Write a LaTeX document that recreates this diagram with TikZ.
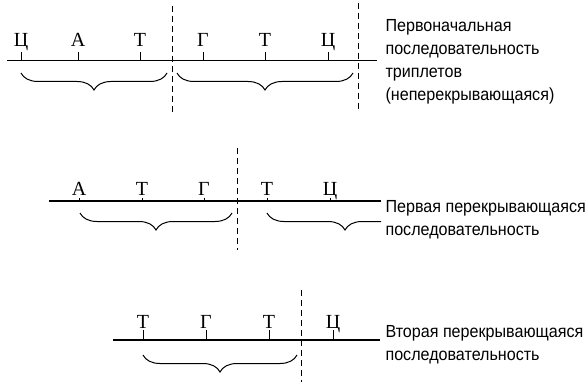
\documentclass[tikz,border=0pt]{standalone}
\usepackage{fontspec}
\setmainfont[FakeStretch=0.92]{Liberation Sans}
\newfontfamily\nucfont{Liberation Serif}
\usetikzlibrary{decorations.pathreplacing}

\begin{document}
\begin{tikzpicture}[x=1pt, y=-1pt, line width=1.1pt,
                    nuc/.style={font=\nucfont\fontsize{20}{20}\selectfont,
                                inner sep=0pt, anchor=base},
                    tickmark/.style={line width=0.8pt},
                    frame/.style={line width=0.8pt, dash pattern=on 6pt off 4pt},
                    triplet/.style={decorate, line width=1pt,
                                    decoration={brace, mirror, amplitude=17pt}},
                    seqtext/.style={font=\fontsize{17.5}{23}\selectfont, align=left,
                                    inner sep=0pt, anchor=north west}]

  \useasboundingbox (0,0) rectangle (588,382);

  % original, non-overlapping reading
  \coordinate (row1w) at (7,60.7);
  \coordinate (row1e) at (377,60.7);
  \draw (row1w) -- (row1e);

  \node[nuc] (n11) at (21,47)  {Ц};
  \node[nuc] (n12) at (78,47)  {А};
  \node[nuc] (n13) at (140,47) {Т};
  \node[nuc] (n14) at (203,47) {Г};
  \node[nuc] (n15) at (265,47) {Т};
  \node[nuc] (n16) at (328,47) {Ц};
  \foreach \n in {n11,n12,n13,n14,n15,n16}
    \draw[tickmark] ([yshift=-5pt]\n.base) -- (\n.base |- row1w);

  \coordinate (d1a) at (172,6);   \coordinate (d1b) at (172,112);
  \coordinate (d2a) at (358,3);   \coordinate (d2b) at (358,110);
  \draw[frame] (d1a) -- (d1b);
  \draw[frame] (d2a) -- (d2b);

  \coordinate (b11) at (21,73);   \coordinate (b12) at (167,73);
  \coordinate (b13) at (177,73);  \coordinate (b14) at (353,73);
  \draw[triplet] (b11) -- (b12);
  \draw[triplet] (b13) -- (b14);

  \node[seqtext] (lab1) at (385,18.5)
    {Первоначальная\\последовательность\\триплетов\\(неперекрывающаяся)};

  % first overlapping reading
  \coordinate (row2w) at (49,201);
  \coordinate (row2e) at (381,201);
  \draw (row2w) -- (row2e);

  \node[nuc] (n21) at (79,195.5)  {А};
  \node[nuc] (n22) at (142,195.5) {Т};
  \node[nuc] (n23) at (204,195.5) {Г};
  \node[nuc] (n24) at (267,195.5) {Т};
  \node[nuc] (n25) at (330,195.5) {Ц};
  \foreach \n in {n21,n22,n23,n24,n25}
    \draw[tickmark] ([yshift=-2pt]\n.base) -- (\n.base |- row2w);

  \coordinate (d3a) at (237,148); \coordinate (d3b) at (237,250);
  \draw[frame] (d3a) -- (d3b);

  \coordinate (b21) at (80,213);  \coordinate (b22) at (232,213);
  \coordinate (b23) at (267,213); \coordinate (b24) at (423,213);
  \draw[triplet] (b21) -- (b22);
  \begin{scope}
    \clip (250,200) rectangle (381,240);
    \draw[triplet] (b23) -- (b24);
  \end{scope}

  \node[seqtext] (lab2) at (385,199.5)
    {Первая перекрывающаяся\\последовательность};

  % second overlapping reading
  \coordinate (row3w) at (113,340);
  \coordinate (row3e) at (380,340);
  \draw (row3w) -- (row3e);

  \node[nuc] (n31) at (143,328) {Т};
  \node[nuc] (n32) at (206,328) {Г};
  \node[nuc] (n33) at (269,328) {Т};
  \node[nuc] (n34) at (333,328) {Ц};
  \foreach \n in {n31,n32,n33,n34}
    \draw[tickmark] ([yshift=-2pt]\n.base) -- (\n.base |- row3w);

  \coordinate (d4a) at (301,290); \coordinate (d4b) at (301,382);
  \draw[frame] (d4a) -- (d4b);

  \coordinate (b31) at (143,355); \coordinate (b32) at (297,355);
  \draw[triplet] (b31) -- (b32);

  \node[seqtext] (lab3) at (385,324.5)
    {Вторая перекрывающаяся\\последовательность};

\end{tikzpicture}
\end{document}
